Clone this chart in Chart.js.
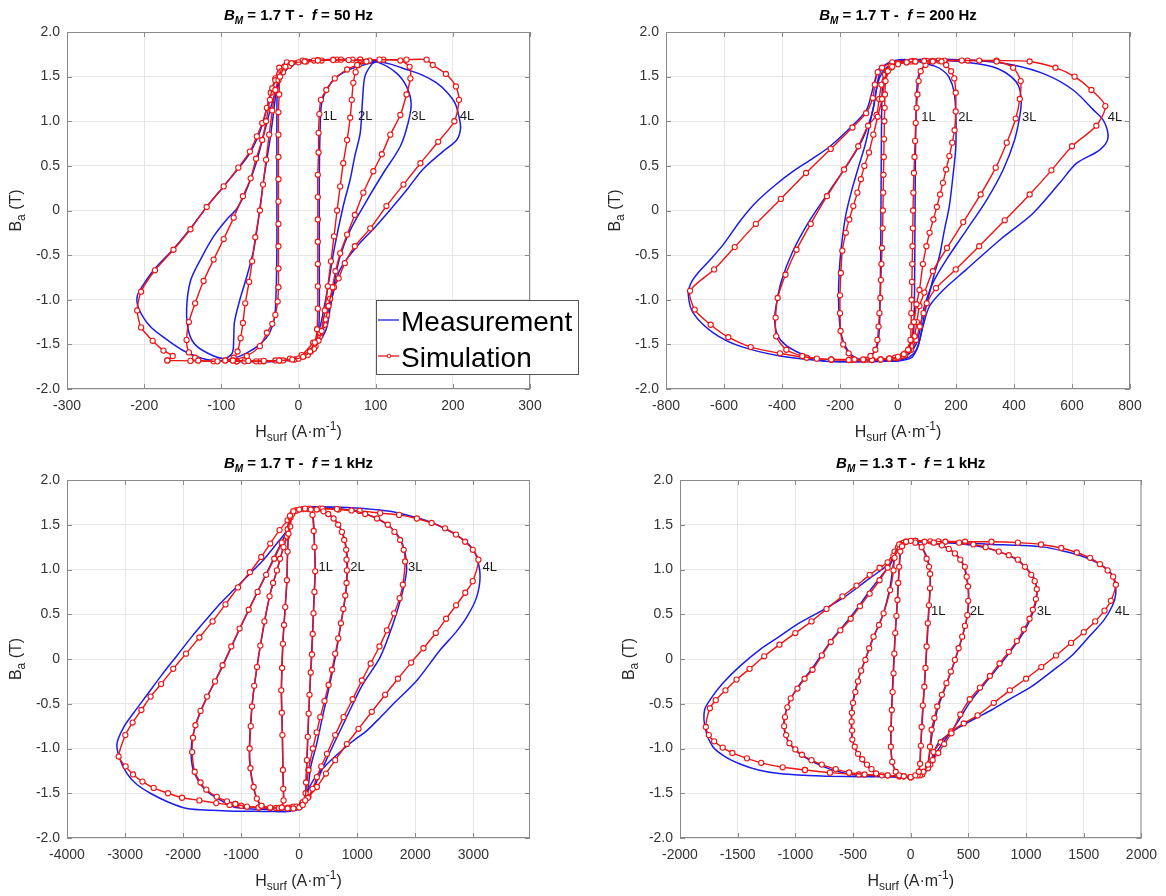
<!DOCTYPE html>
<html>
<head>
<meta charset="utf-8">
<script src="https://cdn.jsdelivr.net/npm/chart.js@4.4.1/dist/chart.umd.min.js"></script>
<style>
  body { margin: 0; background: #fff; width: 1166px; height: 896px; position: relative; overflow: hidden; }
  .panel { position: absolute; width: 583px; height: 448px; }
</style>
</head>
<body>
<div class="panel" style="left:0;top:0"><canvas id="c50"></canvas></div>
<div class="panel" style="left:583px;top:0"><canvas id="c200"></canvas></div>
<div class="panel" style="left:0;top:448px"><canvas id="c1k"></canvas></div>
<div class="panel" style="left:583px;top:448px"><canvas id="c1k13"></canvas></div>
<script>
// ---- tick labels / categories ----
const bTicks = [-2, -1.5, -1, -0.5, 0, 0.5, 1, 1.5, 2];
const f50Ticks = [-300, -200, -100, 0, 100, 200, 300];
const f200Ticks = [-800, -600, -400, -200, 0, 200, 400, 600, 800];
const f1kTicks = [-4000, -3000, -2000, -1000, 0, 1000, 2000, 3000];
const f1k13Ticks = [-2000, -1500, -1000, -500, 0, 500, 1000, 1500, 2000];
const loopNames = ['1L', '2L', '3L', '4L'];
const panelTitles = [['1.7', '50 Hz'], ['1.7', '200 Hz'], ['1.7', '1 kHz'], ['1.3', '1 kHz']];
// where the loop names sit: H of text start, B of text
const f50LabelH = [31, 77, 146, 209];
const f200LabelH = [80, 208, 428, 723];
const f1kLabelH = [333, 878, 1872, 3157];
const f1k13LabelH = [176, 512, 1092, 1771];
const labelB = [1.05, 1.04, 1.025, 0.53];

// ---- BM = 1.7 T, f = 50 Hz : [H (A/m), B (T)] ----
const p1Sim1 = [[-85,-1.68],[-65,-1.685],[-45,-1.685],[-25,-1.68],[-8,-1.67],[6,-1.64],[15,-1.58],[21,-1.48],[24,-1.33],[25,-1.1],[25,-0.85],[25,-0.6],[25,-0.35],[25,-0.1],[25,0.15],[25,0.4],[26,0.65],[26,0.87],[27,1.08],[29,1.24],[36,1.35],[47,1.48],[63,1.58],[76,1.63],[88,1.67],[65,1.685],[45,1.685],[25,1.68],[8,1.67],[-9,1.65],[-17,1.61],[-24,1.5],[-25,1.3],[-26,1.1],[-26,0.85],[-26,0.6],[-26,0.35],[-26,0.1],[-26,-0.15],[-26,-0.4],[-26,-0.65],[-26,-0.86],[-27,-1.02],[-30,-1.17],[-34,-1.27],[-41,-1.37],[-50,-1.52],[-67,-1.63],[-85,-1.68]];
const p1Meas1 = [[-95,-1.69],[-60,-1.69],[-25,-1.685],[0,-1.67],[14,-1.62],[22,-1.52],[26,-1.35],[27,-1.1],[27,-0.6],[27,-0.1],[27,0.4],[28,0.9],[30,1.2],[38,1.38],[50,1.5],[66,1.58],[84,1.63],[100,1.67],[70,1.69],[35,1.69],[5,1.68],[-12,1.63],[-22,1.54],[-27,1.38],[-28,1.1],[-28,0.6],[-28,0.1],[-28,-0.4],[-29,-0.9],[-31,-1.2],[-38,-1.38],[-50,-1.5],[-68,-1.6],[-95,-1.69]];
const p1Sim2 = [[-95,-1.68],[-70,-1.69],[-45,-1.69],[-20,-1.68],[0,-1.66],[12,-1.62],[20,-1.55],[26,-1.46],[30,-1.35],[34,-1.12],[38,-0.85],[42,-0.57],[46,-0.29],[50,0],[54,0.27],[58,0.53],[63,0.79],[67,1.04],[69,1.24],[71,1.43],[74,1.55],[78,1.63],[92,1.68],[70,1.69],[45,1.69],[20,1.68],[0,1.66],[-12,1.62],[-20,1.55],[-26,1.46],[-30,1.35],[-34,1.12],[-38,0.85],[-42,0.57],[-46,0.29],[-50,0],[-56,-0.3],[-60,-0.57],[-64,-0.8],[-69,-1.04],[-72,-1.26],[-75,-1.43],[-79,-1.58],[-84,-1.65],[-95,-1.68]];
const p1Meas2 = [[-100,-1.69],[-60,-1.69],[-20,-1.68],[5,-1.64],[18,-1.55],[28,-1.3],[34,-1.05],[39,-0.81],[47,-0.4],[58,0.05],[67,0.35],[73,0.61],[80,0.87],[83,1.24],[86,1.5],[95,1.64],[102,1.68],[60,1.69],[20,1.68],[-5,1.64],[-18,1.55],[-28,1.35],[-33,1.05],[-37,0.79],[-45,0.35],[-52,-0.1],[-58,-0.44],[-67,-0.74],[-76,-1.0],[-83,-1.25],[-84,-1.45],[-86,-1.6],[-100,-1.69]];
const p1Sim3 = [[-130,-1.68],[-105,-1.69],[-80,-1.69],[-55,-1.69],[-30,-1.68],[-11,-1.66],[4,-1.62],[19,-1.48],[28,-1.37],[35,-1.22],[39,-1.07],[44,-0.86],[48,-0.68],[54,-0.48],[63,-0.27],[73,-0.05],[84,0.2],[97,0.44],[108,0.63],[119,0.85],[132,1.07],[140,1.3],[145,1.48],[144,1.61],[132,1.68],[105,1.69],[80,1.69],[55,1.69],[30,1.68],[10,1.67],[-10,1.64],[-22,1.56],[-30,1.46],[-34,1.37],[-37,1.24],[-42,1.0],[-47,0.79],[-55,0.58],[-62,0.36],[-72,0.16],[-84,-0.08],[-97,-0.32],[-110,-0.55],[-123,-0.79],[-134,-1.04],[-142,-1.25],[-145,-1.45],[-142,-1.59],[-134,-1.65],[-130,-1.68]];
const p1Meas3 = [[-93,-1.67],[-60,-1.69],[-30,-1.69],[-5,-1.67],[8,-1.62],[20,-1.52],[30,-1.38],[36,-1.22],[43,-1.0],[47,-0.78],[54,-0.51],[67,-0.22],[89,0.12],[110,0.42],[132,0.72],[142,0.98],[146,1.2],[140,1.39],[127,1.54],[103,1.66],[70,1.69],[30,1.69],[0,1.67],[-15,1.6],[-25,1.45],[-31,1.3],[-36,1.15],[-42,0.95],[-48,0.75],[-56,0.5],[-68,0.22],[-80,0.02],[-93,-0.1],[-110,-0.29],[-127,-0.55],[-140,-0.79],[-145,-1.11],[-142,-1.37],[-132,-1.52],[-110,-1.63],[-93,-1.67]];
const p1Sim4 = [[-170,-1.68],[-140,-1.685],[-110,-1.69],[-80,-1.69],[-50,-1.69],[-25,-1.68],[-5,-1.67],[7,-1.63],[16,-1.58],[22,-1.52],[28,-1.41],[34,-1.28],[37,-1.17],[41,-0.99],[46,-0.86],[52,-0.76],[60,-0.59],[73,-0.4],[93,-0.2],[114,0.05],[136,0.29],[158,0.53],[181,0.77],[202,1.0],[208,1.24],[204,1.39],[191,1.53],[174,1.63],[166,1.69],[140,1.69],[110,1.69],[80,1.69],[50,1.69],[25,1.685],[5,1.68],[-15,1.66],[-25,1.6],[-30,1.48],[-36,1.32],[-41,1.15],[-47,0.98],[-54,0.83],[-63,0.66],[-78,0.48],[-97,0.27],[-119,0.04],[-140,-0.21],[-162,-0.44],[-186,-0.67],[-204,-0.91],[-209,-1.12],[-204,-1.31],[-189,-1.46],[-175,-1.57],[-163,-1.63],[-170,-1.68]];
const p1Meas4 = [[-90,-1.69],[-50,-1.695],[-20,-1.68],[2,-1.63],[14,-1.58],[22,-1.52],[31,-1.42],[37,-1.3],[41,-1.1],[45,-0.92],[54,-0.66],[76,-0.4],[100,-0.18],[123,0.05],[142,0.25],[161,0.46],[187,0.66],[205,0.79],[210,0.92],[208,1.05],[203,1.2],[193,1.32],[179,1.43],[160,1.52],[140,1.58],[119,1.64],[95,1.68],[60,1.69],[25,1.685],[0,1.67],[-14,1.62],[-22,1.55],[-30,1.45],[-36,1.32],[-41,1.15],[-46,0.98],[-54,0.8],[-64,0.63],[-78,0.47],[-97,0.27],[-119,0.04],[-140,-0.2],[-162,-0.43],[-186,-0.65],[-201,-0.83],[-209,-0.96],[-207,-1.1],[-192,-1.3],[-170,-1.45],[-147,-1.58],[-119,-1.67],[-90,-1.69]];

// ---- BM = 1.7 T, f = 200 Hz ----
const p2Sim1 = [[-120,-1.67],[-90,-1.675],[-60,-1.67],[-30,-1.66],[0,-1.64],[20,-1.61],[35,-1.56],[43,-1.45],[45,-1.3],[46,-1.15],[47,-1.0],[48,-0.8],[49,-0.6],[50,-0.4],[51,-0.2],[52,0],[53,0.2],[55,0.42],[57,0.6],[59,0.78],[61,0.98],[64,1.15],[67,1.3],[71,1.45],[78,1.56],[95,1.63],[120,1.67],[90,1.675],[60,1.67],[30,1.66],[0,1.64],[-20,1.61],[-35,1.56],[-43,1.45],[-45,1.3],[-46,1.15],[-47,1.0],[-48,0.8],[-49,0.6],[-50,0.4],[-51,0.2],[-52,0],[-53,-0.2],[-55,-0.42],[-57,-0.6],[-59,-0.78],[-61,-0.98],[-64,-1.15],[-67,-1.3],[-71,-1.45],[-78,-1.56],[-95,-1.63],[-120,-1.67]];
const p2Meas1 = [[-110,-1.68],[-60,-1.69],[-20,-1.68],[10,-1.66],[35,-1.6],[50,-1.5],[55,-1.3],[57,-0.9],[58,-0.4],[59,0.1],[60,0.6],[62,1.0],[64,1.3],[70,1.5],[85,1.6],[110,1.66],[60,1.69],[20,1.68],[-10,1.66],[-35,1.6],[-50,1.5],[-55,1.3],[-57,0.9],[-58,0.4],[-59,-0.1],[-60,-0.6],[-62,-1.0],[-64,-1.3],[-70,-1.5],[-85,-1.6],[-110,-1.68]];
const p2Sim2 = [[-150,-1.67],[-120,-1.675],[-90,-1.675],[-60,-1.67],[-30,-1.66],[0,-1.65],[25,-1.62],[38,-1.56],[46,-1.45],[55,-1.25],[64,-1.05],[74,-0.89],[86,-0.6],[98,-0.4],[109,-0.25],[122,-0.1],[134,0.04],[145,0.18],[155,0.31],[166,0.46],[177,0.61],[187,0.76],[195,0.9],[199,1.11],[199,1.32],[194,1.48],[183,1.56],[166,1.63],[150,1.67],[120,1.675],[90,1.675],[60,1.67],[30,1.66],[0,1.65],[-25,1.62],[-38,1.56],[-46,1.45],[-55,1.25],[-70,1.05],[-85,0.85],[-100,0.65],[-116,0.5],[-128,0.35],[-140,0.2],[-154,0.05],[-168,-0.1],[-180,-0.25],[-192,-0.45],[-197,-0.7],[-200,-0.95],[-200,-1.15],[-198,-1.35],[-189,-1.5],[-170,-1.6],[-150,-1.67]];
const p2Meas2 = [[-140,-1.66],[-100,-1.68],[-50,-1.69],[0,-1.68],[40,-1.64],[65,-1.55],[80,-1.37],[92,-1.15],[103,-1.0],[122,-0.75],[143,-0.51],[160,-0.22],[177,0.05],[190,0.4],[198,0.65],[200,0.79],[200,1.0],[194,1.32],[175,1.5],[150,1.58],[125,1.62],[103,1.64],[70,1.67],[30,1.69],[-10,1.68],[-40,1.64],[-62,1.55],[-72,1.4],[-82,1.2],[-95,1.0],[-112,0.75],[-135,0.5],[-160,0.22],[-180,-0.05],[-195,-0.4],[-203,-0.7],[-205,-1.0],[-200,-1.3],[-185,-1.5],[-160,-1.62],[-140,-1.66]];
const p2Sim3 = [[-230,-1.67],[-170,-1.675],[-110,-1.67],[-60,-1.665],[-10,-1.65],[25,-1.6],[45,-1.52],[57,-1.41],[65,-1.25],[74,-1.07],[91,-0.92],[120,-0.68],[169,-0.42],[225,-0.13],[285,0.18],[337,0.48],[375,0.76],[406,1.03],[420,1.25],[423,1.45],[397,1.6],[340,1.67],[280,1.68],[220,1.68],[160,1.68],[100,1.675],[45,1.67],[0,1.65],[-25,1.6],[-45,1.52],[-57,1.41],[-65,1.25],[-74,1.07],[-103,0.95],[-137,0.72],[-186,0.46],[-245,0.16],[-301,-0.15],[-350,-0.44],[-388,-0.72],[-415,-0.98],[-422,-1.2],[-420,-1.41],[-385,-1.56],[-330,-1.63],[-280,-1.66],[-230,-1.67]];
const p2Meas3 = [[-250,-1.69],[-180,-1.695],[-110,-1.69],[-50,-1.68],[0,-1.66],[40,-1.6],[62,-1.5],[75,-1.35],[85,-1.15],[100,-0.98],[125,-0.78],[167,-0.55],[236,-0.22],[306,0.12],[363,0.46],[402,0.79],[420,1.06],[425,1.24],[415,1.4],[390,1.5],[351,1.58],[300,1.63],[236,1.66],[170,1.68],[100,1.69],[40,1.68],[0,1.66],[-40,1.6],[-62,1.5],[-75,1.35],[-85,1.15],[-100,0.98],[-125,0.78],[-167,0.55],[-236,0.22],[-306,-0.12],[-363,-0.46],[-402,-0.79],[-420,-1.06],[-425,-1.24],[-415,-1.4],[-390,-1.5],[-351,-1.58],[-300,-1.65],[-250,-1.69]];
const p2Sim4 = [[-230,-1.67],[-160,-1.67],[-90,-1.67],[-30,-1.66],[15,-1.63],[45,-1.56],[62,-1.45],[75,-1.3],[88,-1.15],[99,-1.04],[131,-0.87],[199,-0.66],[280,-0.4],[368,-0.11],[454,0.18],[529,0.45],[600,0.72],[684,0.95],[715,1.17],[667,1.35],[609,1.5],[543,1.6],[454,1.67],[340,1.68],[240,1.68],[140,1.68],[50,1.675],[-20,1.66],[-55,1.6],[-70,1.55],[-80,1.41],[-87,1.26],[-110,1.09],[-157,0.93],[-232,0.69],[-317,0.42],[-404,0.13],[-490,-0.15],[-563,-0.41],[-634,-0.66],[-717,-0.9],[-701,-1.11],[-646,-1.28],[-585,-1.42],[-508,-1.53],[-407,-1.6],[-315,-1.65],[-230,-1.67]];
const p2Meas4 = [[-250,-1.69],[-150,-1.695],[-50,-1.69],[0,-1.685],[46,-1.65],[69,-1.52],[86,-1.3],[109,-1.07],[156,-0.89],[236,-0.66],[351,-0.33],[466,-0.03],[558,0.31],[616,0.53],[696,0.68],[724,0.81],[710,1.0],[673,1.13],[604,1.35],[512,1.52],[397,1.63],[271,1.68],[150,1.695],[40,1.69],[-20,1.67],[-50,1.62],[-68,1.58],[-85,1.39],[-108,1.13],[-154,0.96],[-234,0.72],[-300,0.57],[-361,0.44],[-425,0.28],[-487,0.1],[-545,-0.12],[-602,-0.38],[-650,-0.56],[-690,-0.7],[-715,-0.82],[-723,-0.95],[-706,-1.15],[-637,-1.37],[-545,-1.52],[-407,-1.63],[-250,-1.69]];

// ---- BM = 1.7 T, f = 1 kHz ----
const p3Sim1 = [[-300,-1.66],[-200,-1.67],[-100,-1.67],[0,-1.66],[60,-1.63],[103,-1.58],[118,-1.38],[132,-1.13],[147,-0.87],[162,-0.61],[177,-0.4],[198,-0.15],[219,0.05],[232,0.28],[246,0.51],[262,0.75],[275,0.98],[263,1.25],[250,1.43],[229,1.61],[200,1.67],[100,1.68],[0,1.67],[-100,1.65],[-160,1.6],[-185,1.4],[-200,1.2],[-212,0.88],[-241,0.58],[-262,0.38],[-281,0.17],[-295,-0.1],[-310,-0.35],[-300,-0.6],[-290,-0.85],[-281,-1.24],[-275,-1.45],[-270,-1.58],[-300,-1.66]];
const p3Meas1 = [[-300,-1.68],[-100,-1.68],[50,-1.65],[100,-1.55],[120,-1.35],[135,-1.1],[165,-0.6],[200,-0.1],[230,0.3],[255,0.7],[275,1.0],[265,1.25],[235,1.6],[150,1.68],[0,1.68],[-120,1.65],[-170,1.55],[-200,1.2],[-215,0.85],[-245,0.55],[-285,0.15],[-305,-0.35],[-290,-0.85],[-280,-1.25],[-270,-1.55],[-300,-1.68]];
const p3Sim2 = [[-650,-1.64],[-500,-1.66],[-350,-1.665],[-200,-1.66],[-50,-1.65],[60,-1.6],[110,-1.5],[160,-1.24],[235,-1.0],[300,-0.82],[363,-0.65],[435,-0.47],[506,-0.29],[565,-0.12],[620,0.06],[672,0.23],[718,0.4],[760,0.56],[793,0.71],[815,0.85],[821,0.99],[815,1.11],[809,1.22],[775,1.33],[735,1.42],[670,1.5],[592,1.57],[500,1.62],[418,1.65],[300,1.67],[180,1.68],[60,1.675],[-50,1.66],[-120,1.62],[-155,1.48],[-210,1.37],[-270,1.25],[-330,1.12],[-384,0.99],[-450,0.85],[-511,0.7],[-600,0.42],[-670,0.15],[-727,-0.09],[-775,-0.3],[-813,-0.53],[-835,-0.75],[-854,-1.0],[-840,-1.22],[-785,-1.43],[-730,-1.56],[-650,-1.64]];
const p3Meas2 = [[-650,-1.66],[-300,-1.68],[0,-1.67],[100,-1.6],[150,-1.45],[200,-1.2],[300,-0.95],[400,-0.65],[520,-0.3],[630,0.05],[720,0.4],[800,0.72],[830,1.0],[815,1.22],[740,1.42],[600,1.57],[420,1.65],[180,1.69],[-50,1.67],[-140,1.58],[-170,1.45],[-270,1.25],[-384,0.99],[-511,0.7],[-670,0.15],[-730,-0.1],[-815,-0.53],[-860,-1.0],[-845,-1.22],[-790,-1.43],[-730,-1.56],[-650,-1.66]];
const p3Sim3 = [[-1100,-1.62],[-900,-1.65],[-700,-1.66],[-500,-1.665],[-300,-1.66],[-100,-1.65],[50,-1.62],[150,-1.55],[230,-1.45],[304,-1.32],[380,-1.2],[477,-1.06],[620,-0.85],[764,-0.65],[920,-0.45],[1079,-0.24],[1230,-0.05],[1382,0.14],[1510,0.32],[1635,0.51],[1730,0.68],[1785,0.83],[1824,1.09],[1800,1.22],[1738,1.33],[1640,1.42],[1526,1.5],[1340,1.57],[1136,1.62],[900,1.66],[650,1.675],[400,1.68],[150,1.675],[-50,1.66],[-150,1.58],[-200,1.45],[-300,1.3],[-430,1.12],[-570,0.94],[-717,0.75],[-870,0.55],[-1027,0.34],[-1170,0.14],[-1320,-0.07],[-1450,-0.25],[-1587,-0.42],[-1700,-0.58],[-1788,-0.74],[-1830,-0.88],[-1845,-1.04],[-1800,-1.26],[-1700,-1.38],[-1600,-1.46],[-1420,-1.54],[-1244,-1.59],[-1100,-1.62]];
const p3Meas3 = [[-1100,-1.66],[-700,-1.68],[-300,-1.68],[0,-1.67],[120,-1.6],[230,-1.47],[350,-1.3],[500,-1.08],[780,-0.7],[1080,-0.3],[1394,0.02],[1620,0.4],[1780,0.75],[1850,1.0],[1820,1.2],[1720,1.36],[1520,1.5],[1150,1.62],[700,1.68],[300,1.69],[0,1.68],[-150,1.6],[-200,1.45],[-420,1.15],[-720,0.75],[-1030,0.33],[-1320,-0.08],[-1590,-0.43],[-1790,-0.75],[-1860,-1.0],[-1820,-1.25],[-1620,-1.46],[-1300,-1.6],[-1100,-1.66]];
const p3Sim4 = [[-1000,-1.64],[-700,-1.66],[-400,-1.665],[-150,-1.66],[50,-1.62],[160,-1.54],[304,-1.43],[460,-1.28],[620,-1.13],[820,-0.95],[1021,-0.78],[1250,-0.59],[1480,-0.4],[1700,-0.22],[1928,-0.04],[2140,0.12],[2352,0.29],[2530,0.45],[2702,0.6],[2860,0.74],[2989,0.87],[3086,1.11],[2990,1.22],[2857,1.31],[2700,1.39],[2513,1.46],[2280,1.52],[2026,1.57],[1720,1.61],[1394,1.63],[1040,1.655],[676,1.67],[350,1.68],[80,1.675],[-100,1.65],[-200,1.55],[-339,1.44],[-500,1.29],[-654,1.14],[-850,0.97],[-1055,0.8],[-1270,0.61],[-1492,0.42],[-1720,0.24],[-1950,0.06],[-2170,-0.11],[-2379,-0.28],[-2560,-0.42],[-2719,-0.57],[-2870,-0.71],[-2995,-0.85],[-3110,-1.09],[-2990,-1.2],[-2862,-1.29],[-2700,-1.37],[-2507,-1.44],[-2260,-1.5],[-2019,-1.55],[-1720,-1.58],[-1429,-1.61],[-1200,-1.63],[-1000,-1.64]];
const p3Meas4 = [[-900,-1.7],[-500,-1.705],[-150,-1.7],[60,-1.66],[132,-1.5],[246,-1.35],[440,-1.2],[649,-1.07],[900,-0.93],[1165,-0.8],[1400,-0.65],[1623,-0.5],[2026,-0.24],[2427,0.1],[2700,0.3],[2888,0.47],[3050,0.68],[3115,0.92],[3058,1.14],[2950,1.26],[2770,1.36],[2530,1.45],[2255,1.53],[1900,1.6],[1566,1.65],[1150,1.68],[700,1.695],[300,1.7],[0,1.69],[-150,1.62],[-212,1.44],[-400,1.28],[-614,1.11],[-870,0.94],[-1131,0.77],[-1360,0.62],[-1589,0.45],[-1850,0.25],[-2103,0.04],[-2370,-0.18],[-2620,-0.4],[-2850,-0.6],[-3022,-0.76],[-3138,-0.94],[-3100,-1.1],[-2966,-1.28],[-2800,-1.4],[-2565,-1.5],[-2250,-1.6],[-1933,-1.67],[-1500,-1.69],[-1130,-1.7],[-900,-1.7]];

// ---- BM = 1.3 T, f = 1 kHz ----
const p4Sim1 = [[-60,-1.31],[0,-1.32],[40,-1.3],[70,-1.26],[81,-1.17],[88,-0.97],[95,-0.76],[105,-0.52],[118,-0.31],[128,-0.1],[138,0.14],[148,0.4],[158,0.6],[167,0.79],[168,0.95],[159,1.03],[138,1.12],[95,1.25],[40,1.3],[0,1.32],[-40,1.31],[-75,1.26],[-90,1.2],[-100,1.03],[-108,0.85],[-115,0.66],[-124,0.48],[-134,0.29],[-142,0.06],[-149,-0.16],[-157,-0.37],[-164,-0.57],[-170,-0.78],[-172,-0.98],[-160,-1.15],[-130,-1.26],[-100,-1.3],[-60,-1.31]];
const p4Meas1 = [[-60,-1.31],[40,-1.3],[75,-1.22],[85,-1.0],[97,-0.76],[118,-0.31],[140,0.14],[160,0.6],[170,0.85],[160,1.05],[130,1.17],[90,1.26],[30,1.31],[-40,1.31],[-80,1.25],[-95,1.1],[-105,0.9],[-118,0.6],[-136,0.25],[-152,-0.16],[-166,-0.57],[-172,-0.95],[-155,-1.18],[-110,-1.28],[-60,-1.31]];
const p4Sim2 = [[-300,-1.28],[-200,-1.3],[-100,-1.31],[0,-1.32],[60,-1.3],[110,-1.26],[150,-1.18],[167,-0.98],[181,-0.79],[205,-0.66],[230,-0.53],[270,-0.4],[310,-0.27],[348,-0.14],[383,-0.01],[415,0.12],[446,0.25],[470,0.37],[491,0.49],[499,0.65],[497,0.81],[485,0.92],[469,1.03],[430,1.11],[383,1.18],[330,1.23],[270,1.27],[200,1.3],[120,1.31],[40,1.32],[-40,1.31],[-100,1.28],[-140,1.13],[-149,0.99],[-178,0.77],[-235,0.51],[-275,0.38],[-322,0.25],[-360,0.12],[-393,-0.01],[-430,-0.13],[-457,-0.25],[-480,-0.37],[-500,-0.49],[-510,-0.6],[-512,-0.7],[-508,-0.8],[-506,-0.9],[-485,-0.98],[-457,-1.06],[-420,-1.12],[-379,-1.18],[-340,-1.23],[-300,-1.28]];
const p4Meas2 = [[-300,-1.29],[0,-1.32],[100,-1.28],[150,-1.15],[170,-0.98],[190,-0.8],[235,-0.55],[313,-0.27],[385,-0.01],[448,0.25],[493,0.5],[503,0.72],[485,0.9],[455,1.05],[385,1.18],[270,1.27],[100,1.31],[-40,1.31],[-110,1.25],[-145,1.1],[-180,0.8],[-240,0.5],[-320,0.25],[-393,0.0],[-460,-0.25],[-505,-0.5],[-515,-0.75],[-500,-0.93],[-455,-1.07],[-380,-1.19],[-300,-1.29]];
const p4Sim3 = [[-534,-1.27],[-400,-1.29],[-250,-1.3],[-100,-1.31],[0,-1.32],[80,-1.3],[150,-1.22],[190,-1.13],[239,-1.05],[290,-0.95],[353,-0.83],[430,-0.62],[512,-0.45],[600,-0.32],[686,-0.19],[770,-0.05],[850,0.08],[920,0.2],[980,0.33],[1030,0.45],[1059,0.55],[1085,0.67],[1093,0.78],[1075,0.87],[1045,0.94],[990,1.03],[929,1.11],[850,1.16],[763,1.2],[650,1.25],[543,1.28],[420,1.3],[300,1.31],[170,1.315],[40,1.32],[-60,1.3],[-110,1.25],[-150,1.15],[-200,1.02],[-270,0.88],[-356,0.73],[-440,0.59],[-520,0.45],[-610,0.32],[-693,0.19],[-770,0.04],[-851,-0.12],[-920,-0.22],[-982,-0.33],[-1040,-0.44],[-1069,-0.54],[-1090,-0.65],[-1097,-0.75],[-1080,-0.85],[-1052,-0.94],[-1000,-1.01],[-943,-1.07],[-860,-1.13],[-771,-1.18],[-650,-1.23],[-534,-1.27]];
const p4Meas3 = [[-534,-1.29],[-250,-1.31],[0,-1.32],[100,-1.28],[170,-1.18],[220,-1.05],[300,-0.9],[400,-0.72],[520,-0.47],[690,-0.2],[850,0.06],[980,0.3],[1060,0.52],[1095,0.72],[1080,0.87],[1040,0.96],[930,1.1],[763,1.2],[543,1.27],[300,1.3],[40,1.31],[-70,1.28],[-130,1.18],[-180,1.05],[-260,0.92],[-356,0.76],[-520,0.47],[-693,0.2],[-851,-0.1],[-982,-0.32],[-1069,-0.53],[-1100,-0.74],[-1070,-0.9],[-990,-1.03],[-860,-1.14],[-700,-1.23],[-534,-1.29]];
const p4Sim4 = [[-917,-1.24],[-700,-1.27],[-450,-1.29],[-200,-1.3],[0,-1.32],[100,-1.29],[170,-1.18],[198,-1.04],[260,-0.93],[351,-0.81],[460,-0.72],[580,-0.63],[720,-0.49],[859,-0.35],[1000,-0.22],[1132,-0.09],[1260,0.04],[1390,0.18],[1500,0.3],[1599,0.42],[1680,0.54],[1735,0.65],[1778,0.83],[1755,0.92],[1707,0.99],[1640,1.06],[1555,1.13],[1440,1.19],[1305,1.24],[1130,1.28],[929,1.3],[700,1.31],[471,1.31],[240,1.315],[40,1.32],[-80,1.29],[-140,1.2],[-200,1.08],[-270,1.02],[-356,0.94],[-470,0.82],[-592,0.7],[-730,0.56],[-860,0.42],[-1000,0.29],[-1138,0.16],[-1270,0.03],[-1397,-0.11],[-1510,-0.23],[-1606,-0.35],[-1690,-0.46],[-1741,-0.55],[-1776,-0.76],[-1750,-0.85],[-1704,-0.92],[-1630,-0.99],[-1546,-1.05],[-1420,-1.11],[-1296,-1.16],[-1110,-1.21],[-917,-1.24]];
const p4Meas4 = [[-710,-1.31],[-400,-1.315],[-100,-1.315],[80,-1.3],[170,-1.2],[200,-1.05],[239,-0.94],[320,-0.85],[411,-0.77],[550,-0.67],[700,-0.57],[870,-0.44],[1045,-0.31],[1220,-0.14],[1390,0.03],[1540,0.24],[1678,0.44],[1750,0.6],[1778,0.73],[1770,0.85],[1735,0.96],[1640,1.06],[1505,1.14],[1340,1.2],[1160,1.25],[930,1.27],[700,1.28],[400,1.3],[100,1.31],[-60,1.3],[-120,1.22],[-160,1.1],[-250,1.0],[-400,0.86],[-566,0.7],[-770,0.54],[-968,0.4],[-1140,0.25],[-1313,0.1],[-1480,-0.08],[-1629,-0.27],[-1720,-0.42],[-1787,-0.57],[-1780,-0.78],[-1715,-0.98],[-1610,-1.09],[-1485,-1.17],[-1320,-1.24],[-1140,-1.28],[-920,-1.3],[-710,-1.31]];

// ---- drawing ----
const FONT = "'Liberation Sans', Arial, Helvetica, sans-serif";
const BLUE = '#1c1ce8';
const RED = '#ee1414';
Chart.defaults.font.family = FONT;

function richWidth(ctx, segs) {
  let w = 0;
  segs.forEach(s => { ctx.font = s.f; w += ctx.measureText(s.t).width; });
  return w;
}
function drawRich(ctx, segs, cx, y) {
  let x = cx - richWidth(ctx, segs) / 2;
  segs.forEach(s => {
    ctx.font = s.f;
    ctx.fillText(s.t, x, y + (s.dy || 0));
    x += ctx.measureText(s.t).width;
  });
}

const decorPlugin = {
  id: 'decor',
  afterDraw(chart, args, o) {
    const ctx = chart.ctx, ca = chart.chartArea;
    const xs = chart.scales.x, ys = chart.scales.y;
    ctx.save();
    // frame with inward ticks like matlab
    ctx.strokeStyle = '#8a8a8a';
    ctx.lineWidth = 1;
    ctx.strokeRect(ca.left + 0.5, ca.top + 0.5, ca.width - 1, ca.height - 1);
    ctx.beginPath();
    xs.ticks.forEach(t => {
      const px = Math.round(xs.getPixelForValue(t.value)) + 0.5;
      ctx.moveTo(px, ca.bottom); ctx.lineTo(px, ca.bottom - 5);
      ctx.moveTo(px, ca.top); ctx.lineTo(px, ca.top + 5);
    });
    ys.ticks.forEach(t => {
      const py = Math.round(ys.getPixelForValue(t.value)) + 0.5;
      ctx.moveTo(ca.left, py); ctx.lineTo(ca.left + 5, py);
      ctx.moveTo(ca.right, py); ctx.lineTo(ca.right - 5, py);
    });
    ctx.stroke();

    const midX = (ca.left + ca.right) / 2;
    // title
    ctx.fillStyle = '#000';
    ctx.textBaseline = 'alphabetic';
    ctx.textAlign = 'left';
    const tb = 'bold 15px ' + FONT, ti = 'italic bold 15px ' + FONT, ts = 'italic bold 10px ' + FONT;
    drawRich(ctx, [
      {t: 'B', f: ti}, {t: 'M', f: ts, dy: 4},
      {t: ' = ' + o.title[0] + ' T -  ', f: tb},
      {t: 'f', f: ti}, {t: ' = ' + o.title[1], f: tb}
    ], midX, ca.top - 12);

    // axis labels
    ctx.fillStyle = '#262626';
    const ln = '16px ' + FONT, ls = '12px ' + FONT;
    drawRich(ctx, [
      {t: 'H', f: ln}, {t: 'surf', f: ls, dy: 4}, {t: ' (A\u00b7m', f: ln},
      {t: '-1', f: ls, dy: -7}, {t: ')', f: ln}
    ], midX, ca.bottom + 48);
    ctx.save();
    ctx.translate(ca.left - 46, (ca.top + ca.bottom) / 2);
    ctx.rotate(-Math.PI / 2);
    drawRich(ctx, [{t: 'B', f: ln}, {t: 'a', f: ls, dy: 4}, {t: ' (T)', f: ln}], 0, 0);
    ctx.restore();

    // loop names
    ctx.fillStyle = '#1a1a1a';
    ctx.font = '13px ' + FONT;
    ctx.textBaseline = 'middle';
    o.labelH.forEach((h, i) => {
      ctx.fillText(loopNames[i], xs.getPixelForValue(h), ys.getPixelForValue(o.labelB));
    });

    // legend (first panel only)
    if (o.legend) {
      const bx = ca.right - 154, by = ca.top + 268, bw = 202, bh = 74;
      ctx.fillStyle = '#fff';
      ctx.fillRect(bx, by, bw, bh);
      ctx.strokeStyle = '#555';
      ctx.lineWidth = 1;
      ctx.strokeRect(bx + 0.5, by + 0.5, bw, bh);
      ctx.lineWidth = 1.3;
      ctx.strokeStyle = BLUE;
      ctx.beginPath(); ctx.moveTo(bx + 2, by + 20); ctx.lineTo(bx + 23, by + 20); ctx.stroke();
      ctx.strokeStyle = RED;
      ctx.beginPath(); ctx.moveTo(bx + 2, by + 56); ctx.lineTo(bx + 23, by + 56); ctx.stroke();
      ctx.fillStyle = '#fff';
      ctx.lineWidth = 1;
      ctx.beginPath(); ctx.arc(bx + 13, by + 56, 1.8, 0, Math.PI * 2); ctx.fill(); ctx.stroke();
      ctx.fillStyle = '#000';
      ctx.font = '28px ' + FONT;
      ctx.textBaseline = 'alphabetic';
      ctx.fillText('Measurement', bx + 25, by + 31);
      ctx.fillText('Simulation', bx + 25, by + 67);
    }
    ctx.restore();
  }
};

function toXY(loop) {
  return loop.map(p => ({x: p[0], y: p[1]}));
}

function buildPanel(id, cfg) {
  const datasets = [];
  // simulation first so it is painted over the measurement
  cfg.sim.forEach(loop => datasets.push({
    label: 'Simulation', data: toXY(loop), showLine: true, tension: 0.25,
    borderColor: RED, borderWidth: 1.4,
    pointRadius: 2.6, pointBorderWidth: 1.1, pointBorderColor: RED, pointBackgroundColor: '#fff'
  }));
  cfg.meas.forEach(loop => datasets.push({
    label: 'Measurement', data: toXY(loop), showLine: true, tension: 0.3,
    borderColor: BLUE, borderWidth: 1.5, pointRadius: 0
  }));

  new Chart(document.getElementById(id), {
    type: 'scatter',
    data: { datasets: datasets },
    options: {
      responsive: true,
      maintainAspectRatio: false,
      animation: false,
      layout: { padding: { top: 32, right: cfg.padRight, left: 0, bottom: 0 } },
      plugins: {
        legend: { display: false },
        tooltip: { enabled: false },
        decor: { title: cfg.title, labelH: cfg.labelH, labelB: cfg.labelB, legend: cfg.legend }
      },
      scales: {
        x: {
          type: 'linear', min: cfg.xMin, max: cfg.xMax,
          afterBuildTicks: s => { s.ticks = cfg.xTicks.map(v => ({ value: v })); },
          afterFit: s => { s.height = cfg.xH; },
          grid: { color: '#e6e6e6', drawTicks: false },
          border: { display: false },
          ticks: { autoSkip: false, maxRotation: 0, padding: 9, color: '#333', font: { size: 14 }, callback: v => String(v) }
        },
        y: {
          type: 'linear', min: -2, max: 2,
          afterBuildTicks: s => { s.ticks = bTicks.map(v => ({ value: v })); },
          afterFit: s => { s.width = cfg.yW; },
          grid: { color: '#e6e6e6', drawTicks: false },
          border: { display: false },
          ticks: { padding: 7, color: '#333', font: { size: 14 }, callback: v => (v === 0 ? '0' : v.toFixed(1)) }
        }
      }
    },
    plugins: [decorPlugin]
  });
}

buildPanel('c50', {
  sim: [p1Sim1, p1Sim2, p1Sim3, p1Sim4], meas: [p1Meas1, p1Meas2, p1Meas3, p1Meas4],
  xMin: -300, xMax: 300, xTicks: f50Ticks, title: panelTitles[0],
  labelH: f50LabelH, labelB: labelB[0], legend: true,
  padRight: 53, yW: 67, xH: 59
});
buildPanel('c200', {
  sim: [p2Sim1, p2Sim2, p2Sim3, p2Sim4], meas: [p2Meas1, p2Meas2, p2Meas3, p2Meas4],
  xMin: -800, xMax: 800, xTicks: f200Ticks, title: panelTitles[1],
  labelH: f200LabelH, labelB: labelB[1], legend: false,
  padRight: 36, yW: 83, xH: 59
});
buildPanel('c1k', {
  sim: [p3Sim1, p3Sim2, p3Sim3, p3Sim4], meas: [p3Meas1, p3Meas2, p3Meas3, p3Meas4],
  xMin: -4000, xMax: 3975, xTicks: f1kTicks, title: panelTitles[2],
  labelH: f1kLabelH, labelB: labelB[2], legend: false,
  padRight: 53, yW: 67, xH: 58
});
buildPanel('c1k13', {
  sim: [p4Sim1, p4Sim2, p4Sim3, p4Sim4], meas: [p4Meas1, p4Meas2, p4Meas3, p4Meas4],
  xMin: -2000, xMax: 2000, xTicks: f1k13Ticks, title: panelTitles[3],
  labelH: f1k13LabelH, labelB: labelB[3], legend: false,
  padRight: 22, yW: 97, xH: 58
});
</script>
</body>
</html>
